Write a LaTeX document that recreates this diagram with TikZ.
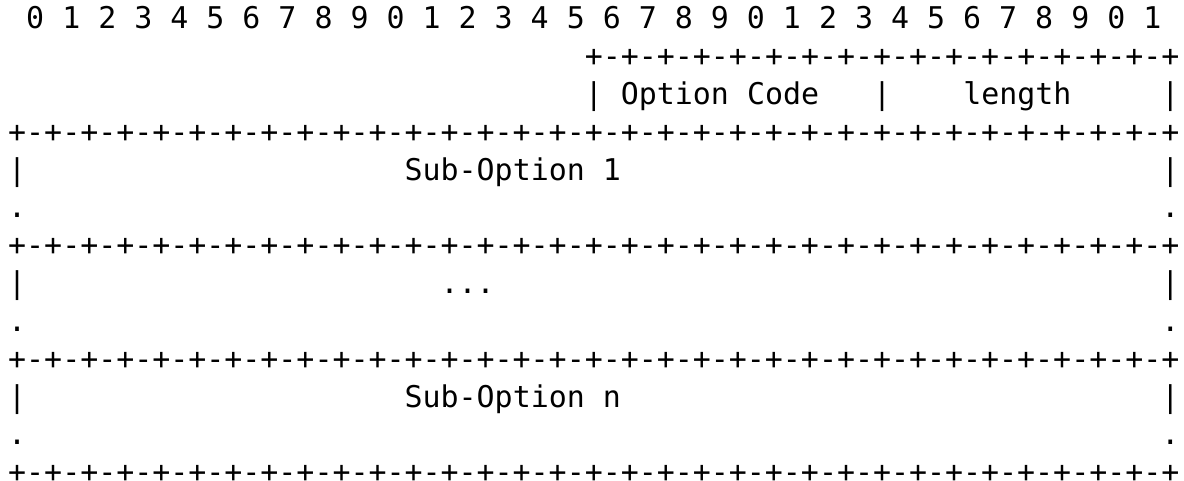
\documentclass[tikz,border=0pt]{standalone}
\usepackage{fontspec}
\newfontfamily\asciifont{DejaVu Sans Mono}
\newcommand{\fullrule}{+-+-+-+-+-+-+-+-+-+-+-+-+-+-+-+-+-+-+-+-+-+-+-+-+-+-+-+-+-+-+-+-+}
\newcommand{\halfrule}{+-+-+-+-+-+-+-+-+-+-+-+-+-+-+-+-+}
\tikzset{
  ascii/.style={anchor=base west, inner sep=0pt, text=black,
    font=\asciifont\fontsize{29.93pt}{37.8pt}\selectfont}
}
\begin{document}
\begin{tikzpicture}[x=1pt, y=-1pt]
            \useasboundingbox[fill=white] (0,0) rectangle (1184,481);
            % bit numbers
            \node[ascii] (bits)     at (  26.02,  29.0) {0 1 2 3 4 5 6 7 8 9 0 1 2 3 4 5 6 7 8 9 0 1 2 3 4 5 6 7 8 9 0 1};
            % option header
            \node[ascii] (toprule)  at ( 584.64,  66.8) {\halfrule};
            \node[ascii] (hdrL)     at ( 584.64, 104.6) {|};
            \node[ascii] (optcode)  at ( 620.68, 104.6) {Option Code};
            \node[ascii] (hdrM)     at ( 872.96, 104.6) {|};
            \node[ascii] (optlen)   at ( 963.06, 104.6) {length};
            \node[ascii] (hdrR)     at (1161.28, 104.6) {|};
            \node[ascii] (rule1)    at (   8.00, 142.4) {\fullrule};
            % sub-option 1
            \node[ascii] (subAL)    at (   8.00, 180.2) {|};
            \node[ascii] (subA)     at ( 404.44, 180.2) {Sub-Option 1};
            \node[ascii] (subAR)    at (1161.28, 180.2) {|};
            \node[ascii] (dotAL)    at (   8.00, 218.0) {.};
            \node[ascii] (dotAR)    at (1161.28, 218.0) {.};
            \node[ascii] (rule2)    at (   8.00, 255.8) {\fullrule};
            % further sub-options
            \node[ascii] (subBL)    at (   8.00, 293.6) {|};
            \node[ascii] (subB)     at ( 440.48, 293.6) {...};
            \node[ascii] (subBR)    at (1161.28, 293.6) {|};
            \node[ascii] (dotBL)    at (   8.00, 331.4) {.};
            \node[ascii] (dotBR)    at (1161.28, 331.4) {.};
            \node[ascii] (rule3)    at (   8.00, 369.2) {\fullrule};
            % sub-option n
            \node[ascii] (subCL)    at (   8.00, 407.0) {|};
            \node[ascii] (subC)     at ( 404.44, 407.0) {Sub-Option n};
            \node[ascii] (subCR)    at (1161.28, 407.0) {|};
            \node[ascii] (dotCL)    at (   8.00, 444.8) {.};
            \node[ascii] (dotCR)    at (1161.28, 444.8) {.};
            \node[ascii] (rule4)    at (   8.00, 482.6) {\fullrule};
        \end{tikzpicture}
\end{document}
